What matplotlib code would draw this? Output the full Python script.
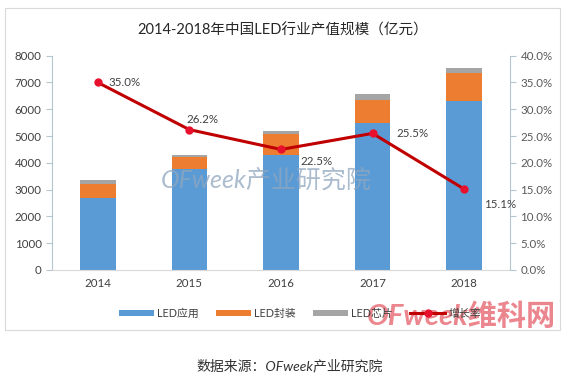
import matplotlib
matplotlib.use("Agg")
import matplotlib.pyplot as plt
from matplotlib.patches import Rectangle
from matplotlib.ticker import FuncFormatter, MultipleLocator
import numpy as np

plt.rcParams['font.family'] = ['Lato', 'Noto Sans CJK SC', 'DejaVu Sans']

years = ['2014', '2015', '2016', '2017', '2018']
led_app = [2690, 3780, 4290, 5470, 6320]
led_pack = [520, 420, 785, 870, 1020]
led_chip = [150, 90, 125, 215, 200]
growth = [35.0, 26.2, 22.5, 25.5, 15.1]
growth_labels = ['35.0%', '26.2%', '22.5%', '25.5%', '15.1%']

series_names = ['LED应用', 'LED封装', 'LED芯片', '增长率']
c_blue, c_orange, c_grey = '#5B9BD5', '#ED7D31', '#A5A5A5'

fig = plt.figure(figsize=(5.66, 3.83), dpi=100)
# chart border
fig.patches.append(Rectangle((5/566, 1-330/383), 555/566, 322/383, transform=fig.transFigure,
                             fill=False, edgecolor='#D9D9D9', linewidth=0.8))

ax = fig.add_axes([52/566, 1-270/383, (510-52)/566, (270-55.7)/383])
x = np.arange(len(years))
w = 0.39
b1 = ax.bar(x, led_app, w, color=c_blue, label=series_names[0], zorder=2)
bottom2 = np.array(led_app)
b2 = ax.bar(x, led_pack, w, bottom=bottom2, color=c_orange, label=series_names[1], zorder=2)
bottom3 = bottom2 + np.array(led_pack)
b3 = ax.bar(x, led_chip, w, bottom=bottom3, color=c_grey, label=series_names[2], zorder=2)

ax.set_xlim(-0.5, len(years) - 0.5)
ax.set_ylim(0, 8000)
ax.yaxis.set_major_locator(MultipleLocator(1000))
ax.set_xticks(x)
ax.set_xticklabels(years)
for s in ['top', 'right']:
    ax.spines[s].set_visible(False)
ax.spines['left'].set_color('#B4C7CF')
ax.spines['bottom'].set_color('#D9D9D9')
ax.tick_params(axis='y', colors='#B4C7CF', labelcolor='#404040', labelsize=8.3, length=4, direction='out')
ax.tick_params(axis='x', length=0, labelcolor='#404040', labelsize=8.3, pad=6)

ax2 = ax.twinx()
ax2.set_ylim(0, 40)
ax2.yaxis.set_major_locator(MultipleLocator(5))
ax2.yaxis.set_major_formatter(FuncFormatter(lambda v, p: f'{v:.1f}%'))
for s in ['top', 'left', 'bottom']:
    ax2.spines[s].set_visible(False)
ax2.spines['right'].set_color('#B4C7CF')
ax2.tick_params(axis='y', colors='#B4C7CF', labelcolor='#595959', labelsize=8.3, length=4, direction='out')
ln, = ax2.plot(x, growth, color='#C00000', linewidth=2.2, marker='o', markersize=5,
               markerfacecolor='#E8112D', markeredgecolor='#E8112D', label=series_names[3], zorder=3)

offsets = [(8, 0), (-2, 7), (14, -9), (17, 0), (14, -11)]
for xi, g, lab, (dx, dy) in zip(x, growth, growth_labels, offsets):
    ax2.annotate(lab, (xi, g), xytext=(dx, dy), textcoords='offset points', ha='left', va='center',
                 fontsize=8.3, color='#404040')

fig.text(0.5, 1-30/383, '2014-2018年中国LED行业产值规模（亿元）', ha='center', va='center',
         fontsize=10.5, color='#262626')

fig.legend(handles=[b1, b2, b3, ln], labels=series_names, loc='center', ncol=4,
           bbox_to_anchor=(0.53, 1-313/383), frameon=False, fontsize=7.8,
           handlelength=3.2, handleheight=0.5, columnspacing=1.6, handletextpad=0.3,
           labelcolor='#404040')

# watermarks
fig.text(266/566, 1-180/383, 'OFweek产业研究院', ha='center', va='center', fontsize=18,
         style='italic', color='#8FA6BF', alpha=0.75, zorder=5)
fig.text(556/566, 1-316/383, 'OFweek维科网', ha='right', va='center', fontsize=21,
         fontweight='bold', style='italic', color='#E8707A', alpha=0.85, zorder=5)

fig.text(290/566, 1-366/383, '数据来源：OFweek产业研究院', ha='center', va='center',
         fontsize=10, style='italic', color='#333333')

fig.savefig('out.png', dpi=100)
